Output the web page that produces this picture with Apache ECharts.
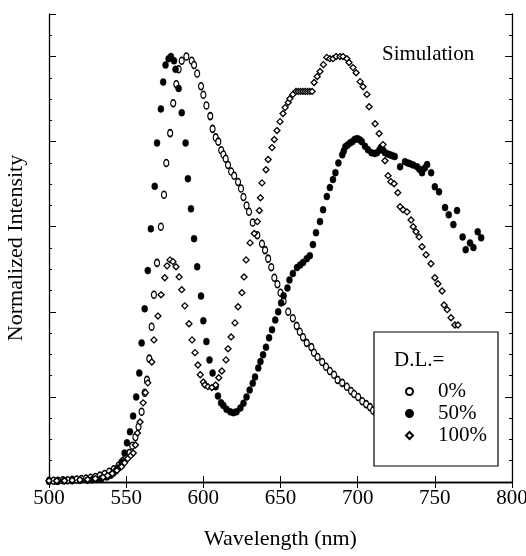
<!DOCTYPE html>
<html>
<head>
<meta charset="utf-8">
<script src="https://cdn.jsdelivr.net/npm/echarts@6/dist/echarts.min.js"></script>
<style>
  html, body { margin: 0; padding: 0; background: #fff; }
  #chart { width: 526px; height: 556px; }
</style>
</head>
<body>
<div id="chart"></div>
<script>
// D.L. = 0% (open circles)
var wl0 = [500, 503, 506, 509, 512, 515, 518, 521, 524, 527, 530, 533, 536, 539, 542, 545, 548, 550, 552, 554, 556, 558, 560, 562, 563.5, 565, 566.5, 568, 570, 572.5, 574.5, 576, 578.5, 580.5, 582.5, 584, 586, 589, 592.5, 594, 596, 598.5, 600, 602, 604.5, 606, 608, 609.7, 611.6, 613, 614.5, 616, 618, 620, 622.5, 624.4, 626, 628, 629.6, 632, 635, 638, 640, 642, 644, 646, 648, 650, 652, 655, 658, 660.5, 662.5, 664.6, 667, 670, 671.7, 674, 677, 679.5, 682, 684.7, 687, 690, 693, 695.7, 697.7, 700.3, 703, 705.5, 708, 710, 712];
var int0 = [0.003, 0.003, 0.003, 0.004, 0.004, 0.005, 0.006, 0.007, 0.008, 0.01, 0.012, 0.015, 0.019, 0.024, 0.03, 0.038, 0.05, 0.058, 0.068, 0.085, 0.105, 0.13, 0.165, 0.21, 0.24, 0.29, 0.365, 0.44, 0.515, 0.6, 0.675, 0.75, 0.82, 0.89, 0.935, 0.97, 0.99, 1.0, 0.99, 0.98, 0.96, 0.93, 0.91, 0.885, 0.86, 0.83, 0.81, 0.8, 0.78, 0.77, 0.76, 0.745, 0.73, 0.72, 0.705, 0.69, 0.67, 0.65, 0.635, 0.61, 0.58, 0.56, 0.545, 0.525, 0.505, 0.48, 0.465, 0.445, 0.425, 0.4, 0.385, 0.367, 0.353, 0.34, 0.327, 0.317, 0.304, 0.294, 0.282, 0.271, 0.261, 0.252, 0.24, 0.233, 0.224, 0.214, 0.207, 0.2, 0.19, 0.183, 0.176, 0.168, 0.162];

// D.L. = 50% (filled circles)
var wl50 = [500, 505, 510, 515, 520, 525, 528, 531, 534, 537.5, 540, 541.7, 543.5, 545, 547, 549, 550.5, 552.5, 554.5, 556.5, 558.5, 560, 562, 564, 566, 568.5, 570, 572.5, 574, 575.5, 577.5, 579, 581, 582, 584, 586, 588.5, 590, 592, 594, 596, 598.5, 600, 602, 604, 606, 608, 609.5, 611.5, 613, 615, 617.5, 619.5, 621.5, 624, 626, 628, 630, 632, 633.5, 635.6, 637, 638.7, 640.6, 642.6, 644.5, 646.6, 648.5, 650.4, 652, 654.5, 655.8, 658, 660.7, 662.7, 664.6, 667, 669, 671, 673, 675.6, 677.6, 680, 682, 684, 685.6, 687.5, 690, 691, 692, 693.5, 695, 696.5, 698, 699, 700, 701.5, 702.7, 704.8, 706.7, 709, 711, 712.5, 714, 715, 716.5, 717.7, 719.5, 721, 722.5, 724, 727.5, 730.7, 732.5, 734, 736, 738.5, 740, 741.7, 743.5, 745, 747.6, 750, 752.7, 756.6, 759, 762, 764.4, 768, 770, 772.8, 775, 777.8, 780];
var int50 = [0.002, 0.002, 0.003, 0.003, 0.004, 0.004, 0.005, 0.006, 0.008, 0.012, 0.016, 0.021, 0.027, 0.033, 0.047, 0.068, 0.092, 0.118, 0.155, 0.2, 0.256, 0.327, 0.407, 0.497, 0.595, 0.695, 0.797, 0.877, 0.94, 0.98, 0.995, 1.0, 0.99, 0.97, 0.925, 0.868, 0.797, 0.713, 0.642, 0.572, 0.506, 0.437, 0.379, 0.33, 0.287, 0.256, 0.224, 0.202, 0.186, 0.18, 0.171, 0.165, 0.163, 0.165, 0.174, 0.185, 0.2, 0.216, 0.232, 0.247, 0.268, 0.283, 0.299, 0.317, 0.339, 0.358, 0.381, 0.4, 0.421, 0.438, 0.456, 0.475, 0.49, 0.504, 0.51, 0.516, 0.525, 0.532, 0.558, 0.586, 0.612, 0.64, 0.671, 0.692, 0.711, 0.727, 0.75, 0.769, 0.778, 0.788, 0.792, 0.797, 0.8, 0.805, 0.806, 0.807, 0.804, 0.8, 0.789, 0.781, 0.774, 0.772, 0.774, 0.78, 0.786, 0.78, 0.774, 0.771, 0.769, 0.767, 0.765, 0.741, 0.753, 0.75, 0.748, 0.745, 0.741, 0.735, 0.727, 0.738, 0.746, 0.727, 0.694, 0.682, 0.645, 0.628, 0.605, 0.638, 0.576, 0.546, 0.562, 0.551, 0.588, 0.574];

// D.L. = 100% (open diamonds)
var wl100 = [500, 505, 510, 515, 520, 525, 530, 535, 538, 541, 544, 547, 549, 551, 553, 554.6, 556, 557.3, 559, 561, 562.5, 564, 566.6, 568, 570.6, 572.6, 575, 576.5, 578.4, 580.3, 582.3, 584.3, 586, 588, 590.7, 592.7, 594.6, 596.5, 598, 600, 601, 603, 605.5, 608, 610, 612, 614.7, 616, 618, 620.5, 622.5, 625, 626.4, 627.7, 630.3, 633, 635, 636.3, 637, 638, 640.6, 642, 644.5, 646, 647.7, 649.7, 651.6, 653, 655, 656, 658, 660, 661.5, 663, 664.5, 666, 667.5, 669, 670.5, 671.8, 673.8, 675.6, 677.8, 680, 682, 684, 686, 688.6, 690.5, 693, 694.4, 697, 699, 701.6, 703.5, 706, 707.4, 711.3, 713.9, 716.4, 717.7, 719.7, 721.5, 723.6, 726, 727.5, 729.4, 732, 734.6, 736, 737.8, 739.8, 741.7, 744.3, 747.5, 750, 752, 754.7, 756, 758, 760.5, 763, 765];
var int100 = [0.003, 0.003, 0.003, 0.004, 0.005, 0.006, 0.008, 0.011, 0.015, 0.02, 0.027, 0.036, 0.045, 0.055, 0.062, 0.068, 0.087, 0.115, 0.141, 0.186, 0.21, 0.233, 0.282, 0.334, 0.39, 0.44, 0.48, 0.508, 0.522, 0.518, 0.506, 0.482, 0.452, 0.414, 0.372, 0.334, 0.304, 0.275, 0.252, 0.235, 0.228, 0.224, 0.222, 0.228, 0.245, 0.261, 0.287, 0.313, 0.341, 0.374, 0.412, 0.445, 0.482, 0.522, 0.562, 0.584, 0.612, 0.638, 0.668, 0.703, 0.734, 0.758, 0.786, 0.805, 0.826, 0.847, 0.866, 0.88, 0.892, 0.901, 0.911, 0.918, 0.918, 0.918, 0.918, 0.918, 0.918, 0.918, 0.918, 0.939, 0.953, 0.965, 0.981, 0.998, 0.995, 0.995, 1.0, 1.0, 1.0, 0.995, 0.986, 0.974, 0.962, 0.941, 0.929, 0.911, 0.882, 0.842, 0.819, 0.793, 0.755, 0.72, 0.706, 0.701, 0.68, 0.647, 0.64, 0.635, 0.616, 0.6, 0.588, 0.576, 0.553, 0.534, 0.513, 0.48, 0.466, 0.449, 0.416, 0.405, 0.386, 0.369, 0.369];

var seriesNames = ['0%', '50%', '100%'];
var xTicks = [500, 550, 600, 650, 700, 750, 800];

function zip(xs, ys) {
  var out = [];
  for (var i = 0; i < xs.length; i++) out.push([xs[i], ys[i]]);
  return out;
}

var serif = '"Liberation Serif", "DejaVu Serif", serif';
var chart = echarts.init(document.getElementById('chart'), null, {renderer: 'canvas'});

var frameLine = {show: true, lineStyle: {color: '#000', width: 1.3}};

chart.setOption({
  animation: false,
  backgroundColor: '#fff',
  grid: {left: 49, right: 14, top: 14, bottom: 74, outerBoundsMode: 'none'},
  xAxis: [
    {
      type: 'value', position: 'bottom',
      min: xTicks[0], max: xTicks[xTicks.length - 1], interval: 50,
      axisLine: frameLine,
      axisTick: {show: true, inside: true, length: 6, lineStyle: {color: '#000', width: 1}},
      axisLabel: {color: '#000', fontFamily: serif, fontSize: 21, margin: 6},
      splitLine: {show: false},
      name: 'Wavelength (nm)', nameLocation: 'middle', nameGap: 46,
      nameTextStyle: {color: '#000', fontFamily: serif, fontSize: 22}
    },
    {
      type: 'value', position: 'top',
      min: xTicks[0], max: xTicks[xTicks.length - 1], interval: 50,
      axisLine: frameLine,
      axisTick: {show: true, inside: true, length: 6, lineStyle: {color: '#000', width: 1}},
      axisLabel: {show: false},
      splitLine: {show: false}
    }
  ],
  yAxis: [
    {
      type: 'value', position: 'left',
      min: 0, max: 1.1, interval: 0.2,
      axisLine: frameLine,
      axisTick: {show: true, inside: true, length: 7, lineStyle: {color: '#000', width: 1}},
      minorTick: {show: true, splitNumber: 4, length: 3, lineStyle: {color: '#000', width: 1}},
      axisLabel: {show: false},
      splitLine: {show: false},
      name: 'Normalized Intensity', nameLocation: 'middle', nameGap: 22,
      nameTextStyle: {color: '#000', fontFamily: serif, fontSize: 22}
    },
    {
      type: 'value', position: 'right',
      min: 0, max: 1.1, interval: 0.2,
      axisLine: frameLine,
      axisTick: {show: true, inside: true, length: 7, lineStyle: {color: '#000', width: 1}},
      minorTick: {show: true, splitNumber: 4, length: 3, lineStyle: {color: '#000', width: 1}},
      axisLabel: {show: false},
      splitLine: {show: false}
    }
  ],
  legend: {
    show: true,
    orient: 'vertical',
    left: 405, top: 381,
    padding: 0,
    itemGap: 1,
    itemWidth: 7, itemHeight: 7,
    symbolKeepAspect: true,
    data: seriesNames,
    textStyle: {color: '#000', fontFamily: serif, fontSize: 21, padding: [0, 0, 0, 20]},
    z: 6
  },
  graphic: [
    {
      type: 'rect', z: 5,
      shape: {x: 374, y: 332, width: 124, height: 134},
      style: {fill: '#fff', stroke: '#000', lineWidth: 1.2}
    },
    {
      type: 'text', z: 6, left: 394, top: 350,
      style: {text: 'D.L.=', fill: '#000', font: '21px ' + serif}
    },
    {
      type: 'text', z: 6, left: 382, top: 44,
      style: {text: 'Simulation', fill: '#000', font: '21px ' + serif}
    }
  ],
  series: [
    {
      name: seriesNames[0], type: 'scatter',
      data: zip(wl0, int0),
      symbol: 'circle', symbolSize: [5, 7],
      itemStyle: {color: '#fff', borderColor: '#000', borderWidth: 1.3, opacity: 1},
      z: 2
    },
    {
      name: seriesNames[1], type: 'scatter',
      data: zip(wl50, int50),
      symbol: 'circle', symbolSize: [6, 7],
      itemStyle: {color: '#000', borderColor: '#000', borderWidth: 0.5, opacity: 1},
      z: 2
    },
    {
      name: seriesNames[2], type: 'scatter',
      data: zip(wl100, int100),
      symbol: 'diamond', symbolSize: [6, 6],
      itemStyle: {color: '#fff', borderColor: '#000', borderWidth: 1.3, opacity: 1},
      z: 2
    }
  ]
});
</script>
</body>
</html>
